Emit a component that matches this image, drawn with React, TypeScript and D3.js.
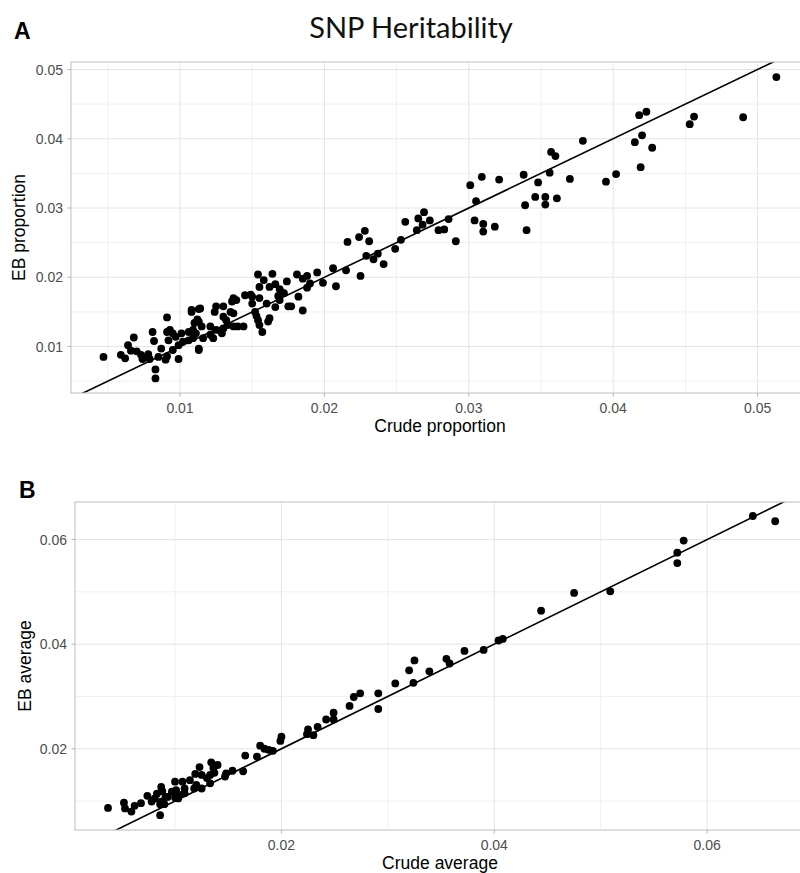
import React, { useEffect, useRef } from 'react';
import * as d3 from 'd3';

// Panel A: SNP heritability, crude vs empirical-Bayes proportion
const crudeProportion = [
  0.0513, 0.0418, 0.0423, 0.0456, 0.0453, 0.0490, 0.0420, 0.0415, 0.0427, 0.0419,
  0.0379, 0.0357, 0.0360, 0.0356, 0.0338, 0.0348, 0.0370, 0.0395, 0.0402, 0.0309,
  0.0321, 0.0346, 0.0353, 0.0361, 0.0339, 0.0353, 0.0301, 0.0305, 0.0304, 0.0310,
  0.0310, 0.0318, 0.0340, 0.0269, 0.0265, 0.0256, 0.0273, 0.0286, 0.0268, 0.0264,
  0.0279, 0.0283, 0.0291, 0.0253, 0.0249, 0.0228, 0.0224, 0.0231, 0.0216, 0.0229,
  0.0237, 0.0234, 0.0241, 0.0206, 0.0215, 0.0225, 0.0195, 0.0199, 0.0208, 0.0181,
  0.0188, 0.0185, 0.0190, 0.0188, 0.0174, 0.0182, 0.0175, 0.0177, 0.0185, 0.0170,
  0.0172, 0.0154, 0.0164, 0.0158, 0.0155, 0.0162, 0.0166, 0.0169, 0.0168, 0.0169,
  0.0155, 0.0160, 0.0166, 0.0150, 0.0145, 0.0149, 0.0137, 0.0136, 0.0139, 0.0150,
  0.0152, 0.0153, 0.0155, 0.0157, 0.0162, 0.0161, 0.0154, 0.0144, 0.0137, 0.0135,
  0.0132, 0.0133, 0.0130, 0.0125, 0.0124, 0.0130, 0.0114, 0.0108, 0.0112, 0.0110,
  0.0115, 0.0121, 0.0125, 0.0129, 0.0121, 0.0123, 0.0116, 0.0109, 0.0109, 0.0113,
  0.0137, 0.0140, 0.0130, 0.0047, 0.0059, 0.0062, 0.0064, 0.0068, 0.0066, 0.0070,
  0.0074, 0.0073, 0.0078, 0.0079, 0.0081, 0.0082, 0.0083, 0.0083, 0.0085, 0.0087,
  0.0091, 0.0091, 0.0092, 0.0093, 0.0095, 0.0090, 0.0091, 0.0095, 0.0099, 0.0099,
  0.0097, 0.0101, 0.0106, 0.0108, 0.0111, 0.0113, 0.0113, 0.0106, 0.0102, 0.0113
];
const ebProportion = [
  0.0489, 0.0434, 0.0439, 0.0432, 0.0421, 0.0431, 0.0405, 0.0395, 0.0387, 0.0359,
  0.0397, 0.0381, 0.0375, 0.0351, 0.0348, 0.0337, 0.0342, 0.0338, 0.0349, 0.0345,
  0.0341, 0.0316, 0.0316, 0.0314, 0.0304, 0.0305, 0.0333, 0.0310, 0.0282, 0.0277,
  0.0266, 0.0273, 0.0268, 0.0294, 0.0285, 0.0280, 0.0282, 0.0284, 0.0276, 0.0268,
  0.0268, 0.0269, 0.0252, 0.0254, 0.0241, 0.0267, 0.0258, 0.0252, 0.0251, 0.0231,
  0.0234, 0.0226, 0.0219, 0.0213, 0.0210, 0.0202, 0.0207, 0.0192, 0.0187, 0.0204,
  0.0202, 0.0198, 0.0191, 0.0185, 0.0194, 0.0172, 0.0158, 0.0158, 0.0152, 0.0179,
  0.0177, 0.0204, 0.0205, 0.0196, 0.0186, 0.0186, 0.0190, 0.0183, 0.0173, 0.0167,
  0.0170, 0.0162, 0.0157, 0.0172, 0.0174, 0.0175, 0.0170, 0.0165, 0.0167, 0.0162,
  0.0150, 0.0144, 0.0131, 0.0121, 0.0141, 0.0136, 0.0138, 0.0129, 0.0148, 0.0150,
  0.0138, 0.0131, 0.0158, 0.0158, 0.0150, 0.0143, 0.0155, 0.0153, 0.0139, 0.0134,
  0.0129, 0.0129, 0.0124, 0.0119, 0.0117, 0.0112, 0.0112, 0.0124, 0.0112, 0.0097,
  0.0129, 0.0129, 0.0126, 0.0085, 0.0088, 0.0083, 0.0102, 0.0113, 0.0094, 0.0093,
  0.0082, 0.0088, 0.0089, 0.0082, 0.0121, 0.0108, 0.0067, 0.0054, 0.0085, 0.0097,
  0.0142, 0.0121, 0.0109, 0.0124, 0.0119, 0.0081, 0.0086, 0.0095, 0.0102, 0.0082,
  0.0114, 0.0119, 0.0121, 0.0150, 0.0119, 0.0136, 0.0095, 0.0109, 0.0107, 0.0154
];

// Panel B: crude vs empirical-Bayes average
const crudeAverage = [
  0.0643, 0.0664, 0.0578, 0.0572, 0.0572, 0.0509, 0.0475, 0.0444, 0.0404, 0.0408,
  0.0390, 0.0372, 0.0355, 0.0358, 0.0339, 0.0325, 0.0320, 0.0324, 0.0307, 0.0291,
  0.0291, 0.0274, 0.0268, 0.0264, 0.0249, 0.0242, 0.0249, 0.0234, 0.0230, 0.0225,
  0.0224, 0.0200, 0.0199, 0.0184, 0.0180, 0.0188, 0.0192, 0.0177, 0.0166, 0.0164,
  0.0154, 0.0148, 0.0147, 0.0140, 0.0134, 0.0136, 0.0137, 0.0123, 0.0133, 0.0130,
  0.0133, 0.0125, 0.0119, 0.0114, 0.0120, 0.0125, 0.0107, 0.0109, 0.0118, 0.0100,
  0.0101, 0.0109, 0.0104, 0.0097, 0.0093, 0.0100, 0.0103, 0.0087, 0.0088, 0.0083,
  0.0087, 0.0090, 0.0086, 0.0081, 0.0078, 0.0074, 0.0068, 0.0062, 0.0059, 0.0053,
  0.0052, 0.0037, 0.0086, 0.0091
];
const ebAverage = [
  0.0645, 0.0635, 0.0598, 0.0575, 0.0555, 0.0501, 0.0498, 0.0464, 0.0407, 0.0410,
  0.0389, 0.0387, 0.0372, 0.0363, 0.0348, 0.0369, 0.0350, 0.0326, 0.0325, 0.0306,
  0.0276, 0.0306, 0.0299, 0.0282, 0.0269, 0.0256, 0.0256, 0.0242, 0.0226, 0.0237,
  0.0228, 0.0223, 0.0215, 0.0200, 0.0206, 0.0198, 0.0196, 0.0185, 0.0187, 0.0157,
  0.0158, 0.0153, 0.0147, 0.0169, 0.0174, 0.0163, 0.0154, 0.0165, 0.0150, 0.0144,
  0.0134, 0.0150, 0.0152, 0.0140, 0.0131, 0.0124, 0.0137, 0.0124, 0.0124, 0.0137,
  0.0121, 0.0115, 0.0112, 0.0118, 0.0108, 0.0107, 0.0105, 0.0127, 0.0119, 0.0114,
  0.0099, 0.0094, 0.0094, 0.0105, 0.0099, 0.0110, 0.0096, 0.0091, 0.0080, 0.0086,
  0.0097, 0.0087, 0.0073, 0.0108
];

const proportionTicks = [0.01, 0.02, 0.03, 0.04, 0.05];
const averageTicks = [0.02, 0.04, 0.06];

// reference line y = a + b x
const lineIntercept = 0;
const lineSlope = 1;

const fmt = d3.format('.2f');
const FONT = '"Liberation Sans", Arial, Helvetica, sans-serif';

function minorOf(ticks) {
  const step = ticks[1] - ticks[0];
  return ticks.map((t) => t - step / 2).concat([ticks[ticks.length - 1] + step / 2]);
}

function drawPanel(svg, o) {
  const g = svg.append('g');
  const x = d3.scaleLinear().domain(o.xDomain).range([o.left, o.right]);
  const y = d3.scaleLinear().domain(o.yDomain).range([o.bottom, o.top]);

  const clipId = 'clip-' + o.tag;
  g.append('clipPath').attr('id', clipId)
    .append('rect')
    .attr('x', o.left).attr('y', o.top)
    .attr('width', o.right - o.left).attr('height', o.bottom - o.top);

  const grid = g.append('g').attr('clip-path', `url(#${clipId})`);
  const inX = (v) => v > o.xDomain[0] && v < o.xDomain[1];
  const inY = (v) => v > o.yDomain[0] && v < o.yDomain[1];

  // minor grid
  grid.selectAll('.vminor').data(minorOf(o.xTicks).filter(inX)).enter().append('line')
    .attr('x1', (d) => x(d)).attr('x2', (d) => x(d))
    .attr('y1', o.top).attr('y2', o.bottom)
    .attr('stroke', '#f0f0f0').attr('stroke-width', 1);
  grid.selectAll('.hminor').data(minorOf(o.yTicks).filter(inY)).enter().append('line')
    .attr('y1', (d) => y(d)).attr('y2', (d) => y(d))
    .attr('x1', o.left).attr('x2', o.right)
    .attr('stroke', '#f0f0f0').attr('stroke-width', 1);
  // major grid
  grid.selectAll('.vmajor').data(o.xTicks).enter().append('line')
    .attr('x1', (d) => x(d)).attr('x2', (d) => x(d))
    .attr('y1', o.top).attr('y2', o.bottom)
    .attr('stroke', '#e4e4e4').attr('stroke-width', 1);
  grid.selectAll('.hmajor').data(o.yTicks).enter().append('line')
    .attr('y1', (d) => y(d)).attr('y2', (d) => y(d))
    .attr('x1', o.left).attr('x2', o.right)
    .attr('stroke', '#e4e4e4').attr('stroke-width', 1);

  // points
  const pts = o.xs.map((v, i) => ({ x: v, y: o.ys[i] }));
  grid.selectAll('circle').data(pts).enter().append('circle')
    .attr('cx', (d) => x(d.x)).attr('cy', (d) => y(d.y))
    .attr('r', 3.9).attr('fill', '#000');

  // reference line
  const line = d3.line().x((d) => x(d)).y((d) => y(lineIntercept + lineSlope * d));
  grid.append('path')
    .attr('d', line(o.xDomain))
    .attr('fill', 'none').attr('stroke', '#000').attr('stroke-width', 1.6);

  // border
  g.append('rect')
    .attr('x', o.left).attr('y', o.top)
    .attr('width', o.right - o.left).attr('height', o.bottom - o.top)
    .attr('fill', 'none').attr('stroke', '#c4c4c4').attr('stroke-width', 1.1);

  // ticks and labels
  g.selectAll('.xtick').data(o.xTicks).enter().append('line')
    .attr('x1', (d) => x(d)).attr('x2', (d) => x(d))
    .attr('y1', o.bottom).attr('y2', o.bottom + 3.5)
    .attr('stroke', '#b3b3b3');
  g.selectAll('.xlab').data(o.xTicks).enter().append('text')
    .attr('x', (d) => x(d)).attr('y', o.bottom + 19.5)
    .attr('text-anchor', 'middle')
    .attr('font-family', FONT).attr('font-size', 14).attr('fill', '#4d4d4d')
    .text((d) => fmt(d));
  g.selectAll('.ytick').data(o.yTicks).enter().append('line')
    .attr('y1', (d) => y(d)).attr('y2', (d) => y(d))
    .attr('x1', o.left - 3.5).attr('x2', o.left)
    .attr('stroke', '#b3b3b3');
  g.selectAll('.ylab').data(o.yTicks).enter().append('text')
    .attr('x', o.left - 8).attr('y', (d) => y(d))
    .attr('dy', '0.36em')
    .attr('text-anchor', 'end')
    .attr('font-family', FONT).attr('font-size', 14).attr('fill', '#4d4d4d')
    .text((d) => fmt(d));

  // axis titles
  g.append('text')
    .attr('x', (o.left + o.right) / 2).attr('y', o.bottom + 39)
    .attr('text-anchor', 'middle')
    .attr('font-family', FONT).attr('font-size', 17.5).attr('fill', '#000')
    .text(o.xTitle);
  g.append('text')
    .attr('transform', `translate(${o.yTitleX}, ${(o.top + o.bottom) / 2}) rotate(-90)`)
    .attr('text-anchor', 'middle')
    .attr('font-family', FONT).attr('font-size', 17.5).attr('fill', '#000')
    .text(o.yTitle);

  // panel tag
  g.append('text')
    .attr('x', o.tagX).attr('y', o.tagY)
    .attr('font-family', FONT).attr('font-weight', 'bold')
    .attr('font-size', 23).attr('fill', '#000')
    .text(o.tag);
}

export default function App() {
  const ref = useRef(null);

  useEffect(() => {
    const svg = d3.select(ref.current);
    svg.selectAll('*').remove();

    svg.append('text')
      .attr('x', 411).attr('y', 38)
      .attr('text-anchor', 'middle')
      .attr('font-family', 'Lato, "Open Sans", sans-serif')
      .attr('font-size', 29).attr('fill', '#111')
      .text('SNP Heritability');

    drawPanel(svg, {
      tag: 'A', tagX: 14, tagY: 39,
      left: 71, right: 809, top: 62, bottom: 393,
      xDomain: [0.00245, 0.05356], yDomain: [0.00329, 0.05108],
      xTicks: proportionTicks, yTicks: proportionTicks,
      xs: crudeProportion, ys: ebProportion,
      xTitle: 'Crude proportion', yTitle: 'EB proportion', yTitleX: 25
    });

    drawPanel(svg, {
      tag: 'B', tagX: 19, tagY: 498,
      left: 75, right: 805, top: 502, bottom: 830,
      xDomain: [0.0006, 0.0692], yDomain: [0.00447, 0.06718],
      xTicks: averageTicks, yTicks: averageTicks,
      xs: crudeAverage, ys: ebAverage,
      xTitle: 'Crude average', yTitle: 'EB average', yTitleX: 31
    });
  }, []);

  return (
    <svg ref={ref} width={800} height={873}
      style={{ position: 'absolute', left: 0, top: 0, background: '#fff' }} />
  );
}
